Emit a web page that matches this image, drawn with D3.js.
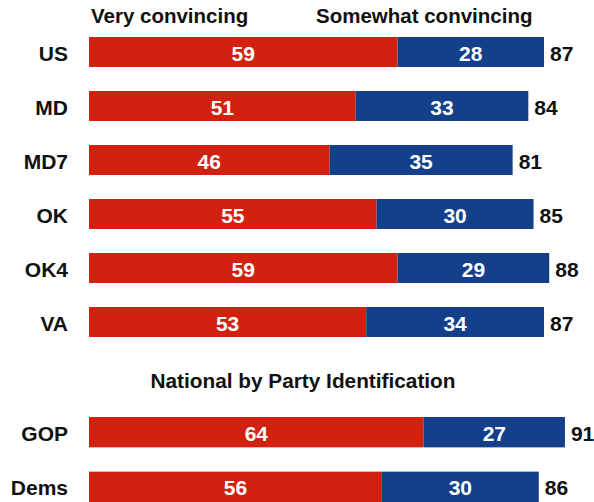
<!DOCTYPE html>
<html>
<head>
<meta charset="utf-8">
<script src="https://cdn.jsdelivr.net/npm/d3@7"></script>
<style>
  html, body { margin: 0; padding: 0; background: #fff; }
  svg { display: block; }
  text { font-family: "Liberation Sans", Arial, sans-serif; font-weight: bold; }
</style>
</head>
<body>
<svg id="chart" width="594" height="502"></svg>
<script>
// Regions
const regions = ["US", "MD", "MD7", "OK", "OK4", "VA"];
const regionVery = [59, 51, 46, 55, 59, 53];
const regionSomewhat = [28, 33, 35, 30, 29, 34];
const regionTotal = [87, 84, 81, 85, 88, 87];

// National by party
const parties = ["GOP", "Dems"];
const partyVery = [64, 56];
const partySomewhat = [27, 30];
const partyTotal = [91, 86];

const seriesNames = ["Very convincing", "Somewhat convincing"];
const partyTitle = "National by Party Identification";

const RED = "#d2220f";
const BLUE = "#133f8b";

const svg = d3.select("#chart");
const x = d3.scaleLinear().domain([0, 100]).range([89, 612]);

const yTop = d3.scaleBand().domain(regions).range([37, 337]).paddingInner(24 / 54).paddingOuter(0);
const yBot = d3.scaleBand().domain(parties).range([417, 502]).paddingInner(24 / 54).paddingOuter(0);

function rows(cats, very, some, total) {
  return cats.map((c, i) => ({ cat: c, very: very[i], some: some[i], total: total[i] }));
}

function drawGroup(data, y) {
  const g = svg.append("g");
  const row = g.selectAll("g.row").data(data).join("g").attr("class", "row");
  const bw = y.bandwidth();
  const cy = d => y(d.cat) + bw / 2;

  row.append("rect")
    .attr("x", x(0)).attr("y", d => y(d.cat))
    .attr("width", d => x(d.very) - x(0)).attr("height", bw)
    .attr("fill", RED);
  row.append("rect")
    .attr("x", d => x(d.very)).attr("y", d => y(d.cat))
    .attr("width", d => x(d.very + d.some) - x(d.very)).attr("height", bw)
    .attr("fill", BLUE);

  row.append("text")
    .attr("x", 68).attr("y", d => cy(d) + 8.5)
    .attr("text-anchor", "end").attr("font-size", 21).attr("fill", "#111")
    .text(d => d.cat);
  row.append("text")
    .attr("x", d => (x(0) + x(d.very)) / 2).attr("y", d => cy(d) + 8.5)
    .attr("text-anchor", "middle").attr("font-size", 21).attr("fill", "#fff")
    .text(d => d.very);
  row.append("text")
    .attr("x", d => (x(d.very) + x(d.very + d.some)) / 2).attr("y", d => cy(d) + 8.5)
    .attr("text-anchor", "middle").attr("font-size", 21).attr("fill", "#fff")
    .text(d => d.some);
  row.append("text")
    .attr("x", d => x(d.very + d.some) + 6).attr("y", d => cy(d) + 8.5)
    .attr("text-anchor", "start").attr("font-size", 21).attr("fill", "#111")
    .text(d => d.total);
}

drawGroup(rows(regions, regionVery, regionSomewhat, regionTotal), yTop);
drawGroup(rows(parties, partyVery, partySomewhat, partyTotal), yBot);

// Series headers
svg.append("text").attr("x", 91).attr("y", 23).attr("font-size", 20.5).attr("fill", "#111")
  .text(seriesNames[0]);
svg.append("text").attr("x", 316).attr("y", 23).attr("font-size", 20.5).attr("fill", "#111")
  .text(seriesNames[1]);

// Section title
svg.append("text").attr("x", 303).attr("y", 388).attr("text-anchor", "middle")
  .attr("font-size", 20.8).attr("fill", "#111").text(partyTitle);
</script>
</body>
</html>
